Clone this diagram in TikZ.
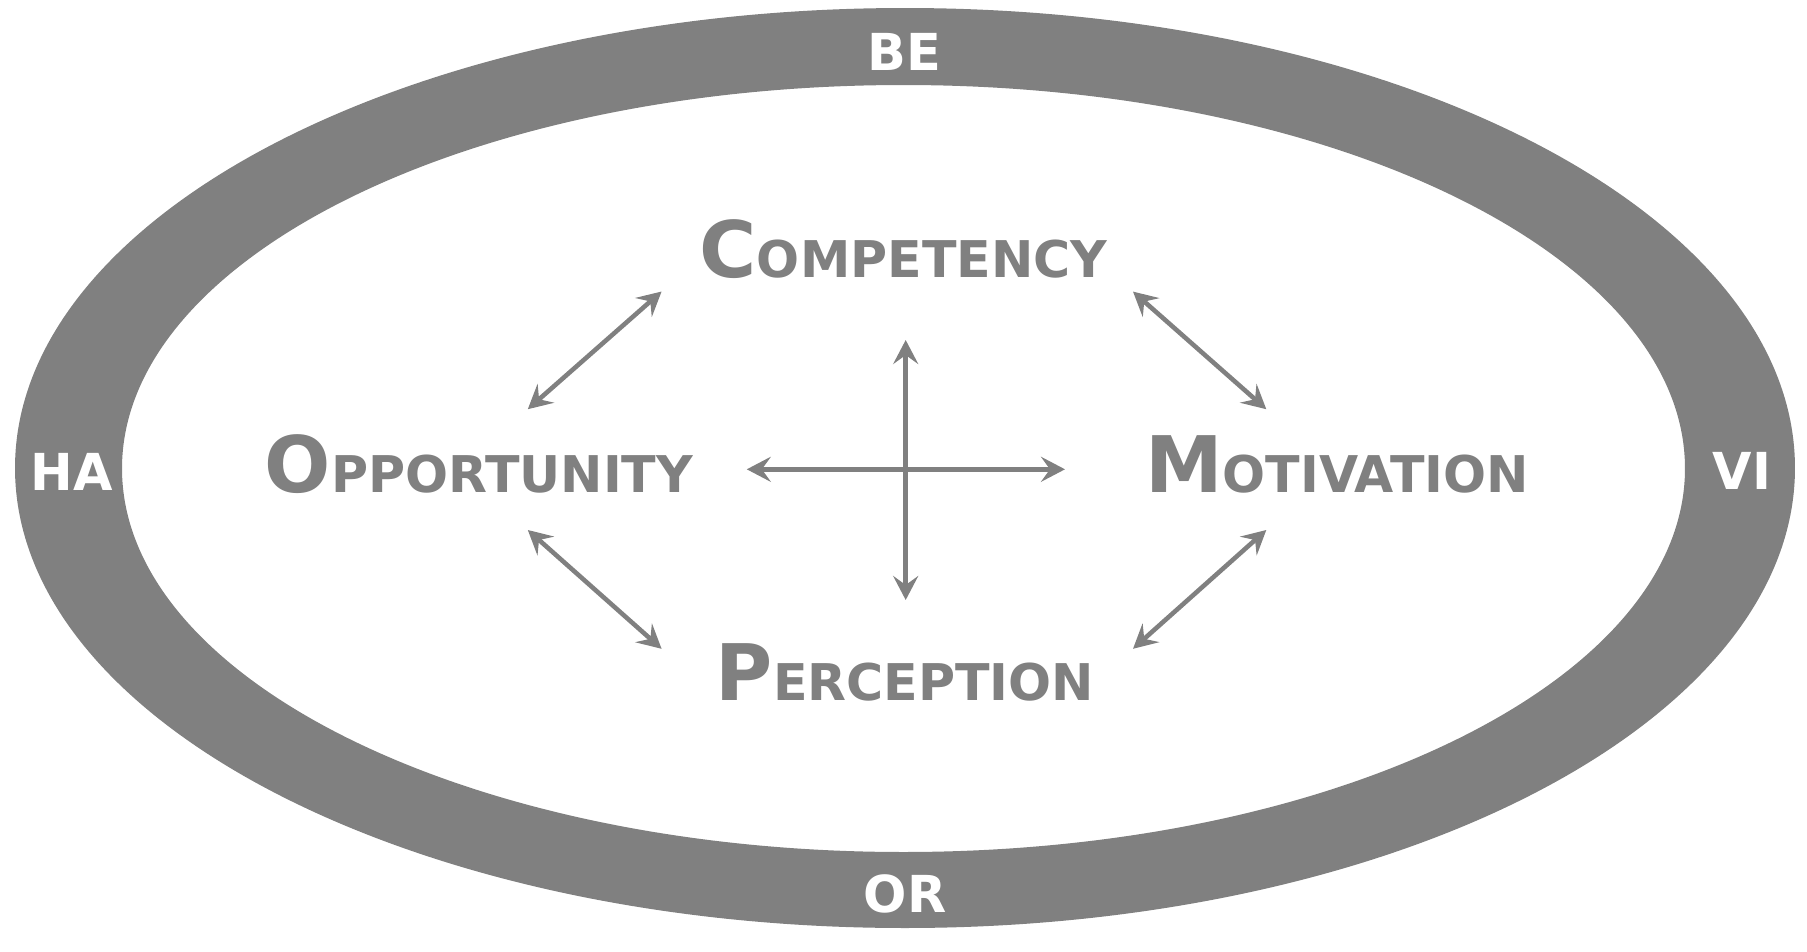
\documentclass[tikz,border=0pt]{standalone}
\usepackage{fontspec}
\setmainfont{DejaVu Sans}
\usetikzlibrary{arrows.meta}
\definecolor{ringgray}{HTML}{808080}
\newcommand\capsword[2]{{\fontsize{22.2}{24}\selectfont #1}{\fontsize{14.4}{18}\selectfont #2}}
\tikzset{
  ringlabel/.style={text=white, font=\bfseries\fontsize{14.5}{16}\selectfont, anchor=base, inner sep=0pt},
  mainlabel/.style={text=ringgray, font=\bfseries, anchor=base, inner sep=0pt},
  link/.style={draw=ringgray, line width=1.3pt, {Stealth[length=2.4mm,width=2.5mm,inset=0.9mm]}-{Stealth[length=2.4mm,width=2.5mm,inset=0.9mm]}}
}
\begin{document}
\begin{tikzpicture}[x=0.1mm,y=-0.1mm]
\useasboundingbox (0,0) rectangle (1807,951);
% ring
\fill[ringgray, even odd rule] (905,468) ellipse [x radius=89.0mm, y radius=46.0mm]
  (903.5,468.5) ellipse [x radius=78.15mm, y radius=38.35mm];
% ring labels
\node[ringlabel] (be) at (904,70) {BE};
\node[ringlabel] (ha) at (72,490) {HA};
\node[ringlabel] (vi) at (1742,489) {VI};
\node[ringlabel] (or) at (905,912) {OR};
% main labels
\node[mainlabel] (comp) at (903.5,277) {\capsword{C}{OMPETENCY}};
\node[mainlabel] (opp) at (479,492) {\capsword{O}{PPORTUNITY}};
\node[mainlabel] (mot) at (1337,492) {\capsword{M}{OTIVATION}};
\node[mainlabel] (perc) at (905,700.5) {\capsword{P}{ERCEPTION}};
% arrow end points
\coordinate (oc1) at (527.8,409.2);
\coordinate (oc2) at (661.6,291.5);
\coordinate (cm1) at (1133,291.6);
\coordinate (cm2) at (1266.3,409.2);
\coordinate (op1) at (527.8,530);
\coordinate (op2) at (661.6,648.8);
\coordinate (mp1) at (1266.3,530);
\coordinate (mp2) at (1133,648.8);
\coordinate (hl) at (746.8,469.3);
\coordinate (hr) at (1065,469.3);
\coordinate (vt) at (905.7,340);
\coordinate (vb) at (905.7,600);
\draw[link] (oc1) -- (oc2);
\draw[link] (cm1) -- (cm2);
\draw[link] (op1) -- (op2);
\draw[link] (mp1) -- (mp2);
\draw[link] (hl) -- (hr);
\draw[link] (vt) -- (vb);
\end{tikzpicture}
\end{document}
